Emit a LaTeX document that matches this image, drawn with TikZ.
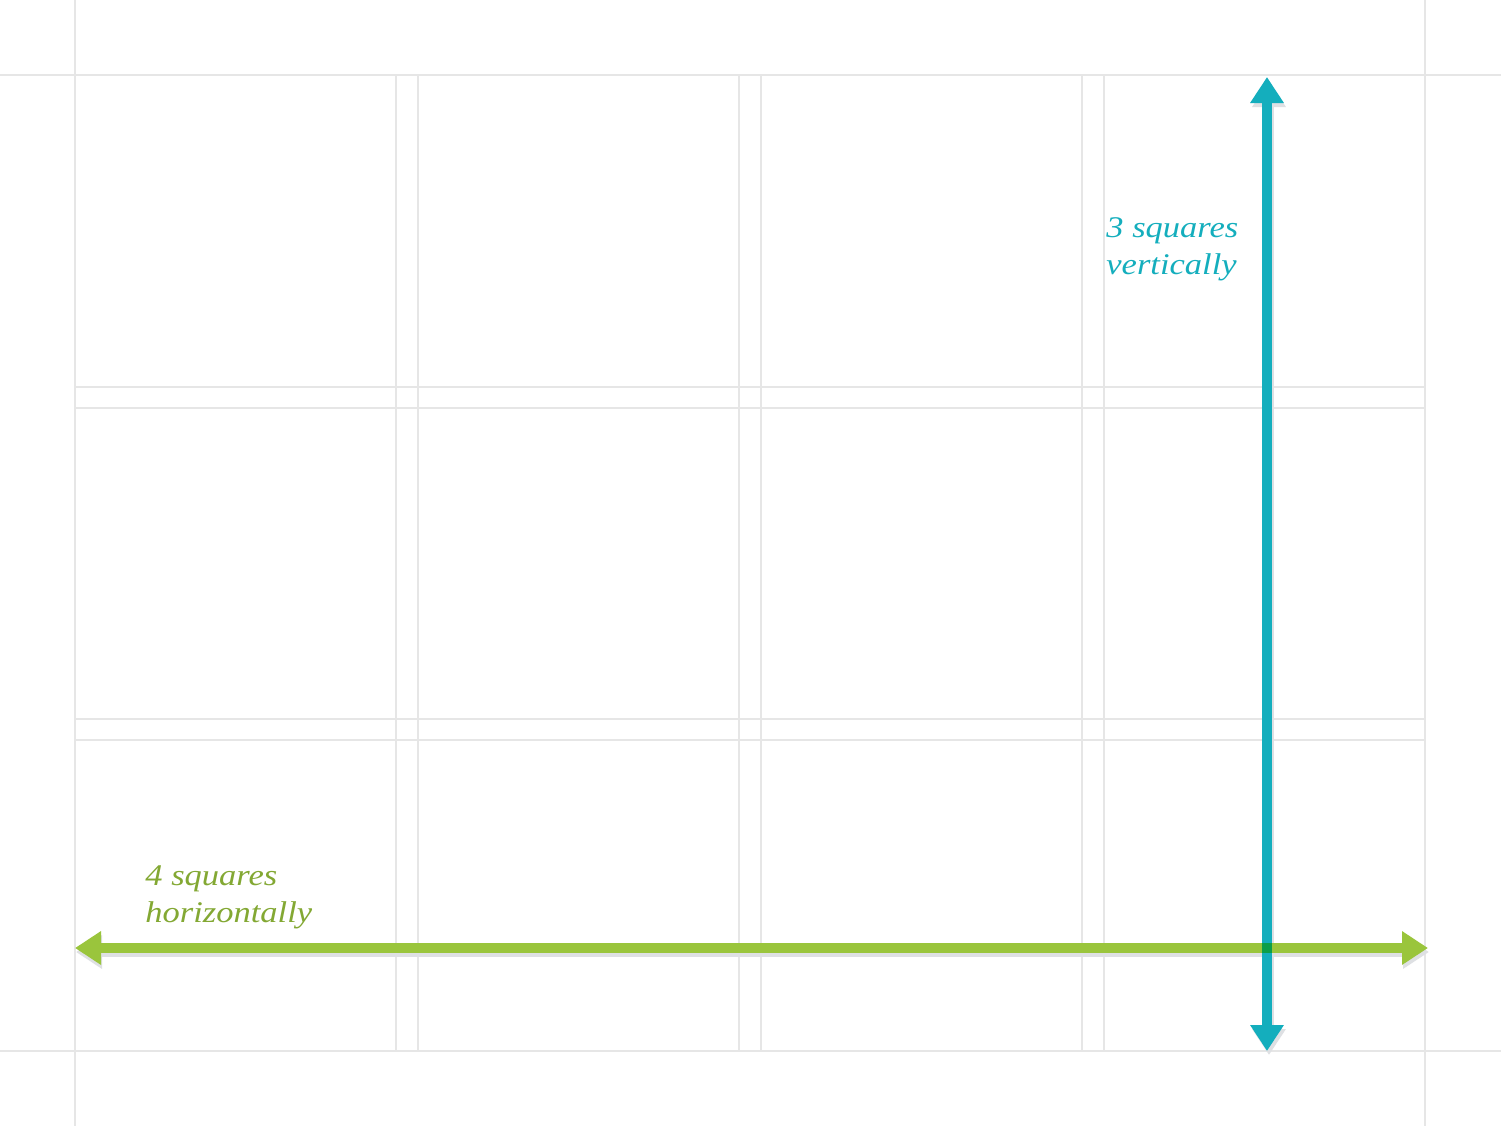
\documentclass[tikz,border=0pt]{standalone}
\usepackage{fontspec}
\setmainfont{Liberation Serif}
\newfontfamily\lblfont[FakeStretch=1.15]{Liberation Serif}
\usetikzlibrary{arrows.meta}
\definecolor{gridc}{HTML}{E6E6E6}
\definecolor{tealc}{HTML}{14AEBD}
\definecolor{greenc}{HTML}{9AC53C}
\definecolor{overc}{HTML}{0C9E48}
\definecolor{shadowc}{HTML}{DEE0E3}
\begin{document}
\begin{tikzpicture}[x=0.5pt,y=-0.5pt,
  gridline/.style={draw=gridc,line width=1pt},
  bigarrow/.style={line width=5pt,{Triangle[length=13pt,width=16pt]}-{Triangle[length=13pt,width=16pt]}},
  lbl/.style={font=\lblfont\itshape\fontsize{15}{18.5}\selectfont, align=left, inner sep=0pt, anchor=base west}]
\fill[white] (0,0) rectangle (1501,1126);
\path[use as bounding box] (0,0) rectangle (1501,1126);
% outer grid lines
\draw[gridline] (75,0) -- (75,1126);
\draw[gridline] (1425,0) -- (1425,1126);
\draw[gridline] (0,75) -- (1501,75);
\draw[gridline] (0,1051) -- (1501,1051);
% inner vertical lines
\foreach \x in {396,418,739,761,1082,1104}
  \draw[gridline] (\x,75) -- (\x,1051);
% inner horizontal lines
\foreach \y in {387,408,719,740}
  \draw[gridline] (75,\y) -- (1425,\y);
% arrow end points
\coordinate (gL) at (75,948);
\coordinate (gR) at (1428,948);
\coordinate (tT) at (1267,77);
\coordinate (tB) at (1267,1051);
% shadows
\draw[bigarrow, draw=shadowc, fill=shadowc] ([shift={(1,4)}]gL) -- ([shift={(1,4)}]gR);
\draw[bigarrow, draw=shadowc, fill=shadowc] ([shift={(2,4)}]tT) -- ([shift={(2,4)}]tB);
% arrows
\draw[bigarrow, draw=greenc, fill=greenc] (gL) -- (gR);
\draw[bigarrow, draw=tealc, fill=tealc] (tT) -- (tB);
\fill[overc] (1262,943) rectangle (1272,953);
% labels (base anchor = baseline of last line)
\node[lbl, text=tealc] (tl) at (1106,274) {\oldstylenums{3} squares\\vertically};
\node[lbl, text=greenc!85!black] (gl) at (145,922) {\oldstylenums{4} squares\\horizontally};
\end{tikzpicture}
\end{document}
